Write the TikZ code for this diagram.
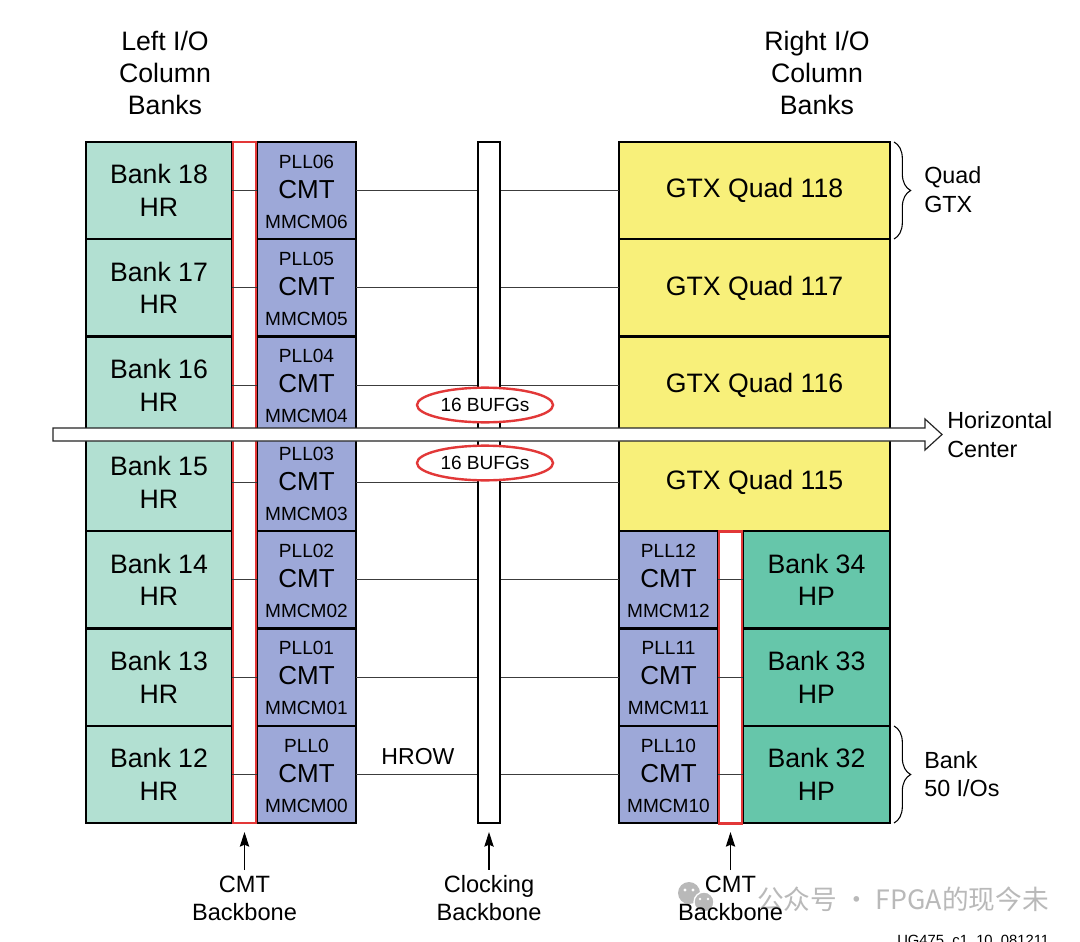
\documentclass[tikz,border=0pt]{standalone}
\usepackage{fontspec}
\setmainfont{Liberation Sans}
\newfontfamily\cjkfont{Noto Sans CJK SC}
\usetikzlibrary{decorations.pathreplacing,arrows.meta,shapes.geometric}
\definecolor{hrcol}{RGB}{178,224,210}
\definecolor{cmtcol}{RGB}{157,168,216}
\definecolor{gtxcol}{RGB}{248,240,122}
\definecolor{hpcol}{RGB}{102,198,170}
\definecolor{bbred}{RGB}{226,56,56}
\definecolor{linecol}{RGB}{60,60,60}
\definecolor{wmgray}{RGB}{185,185,185}
\begin{document}
\begin{tikzpicture}[x=0.75pt,y=-0.75pt,
  box/.style={draw=black,line width=1.7pt,inner sep=0pt,outer sep=0pt,minimum height=72.975pt},
  hrbank/.style={box,fill=hrcol,minimum width=109.5pt,align=center,font=\fontsize{20}{24.5}\selectfont},
  hpbank/.style={box,fill=hpcol,minimum width=110.25pt,align=center,font=\fontsize{20}{24.5}\selectfont},
  cmtbox/.style={box,fill=cmtcol,minimum width=74.25pt},
  gtxbox/.style={box,fill=gtxcol,minimum width=203.25pt,font=\fontsize{20}{24}\selectfont},
  smalltxt/.style={anchor=base,inner sep=0pt,font=\fontsize{14.3}{17}\selectfont},
  cmttxt/.style={anchor=base,inner sep=0pt,font=\fontsize{19.5}{23}\selectfont},
  redbb/.style={draw=bbred,line width=2.2pt,fill=white,inner sep=0pt,outer sep=0pt,minimum width=17.25pt},
  clockbb/.style={draw=black,line width=1.9pt,fill=white,inner sep=0pt,outer sep=0pt,minimum width=16.5pt,minimum height=510.75pt},
  hline/.style={draw=linecol,line width=0.75pt},
  bufg/.style={ellipse,draw=bbred,line width=1.8pt,fill=white,inner sep=0pt,minimum width=102pt,minimum height=26pt,font=\fontsize{14.3}{17}\selectfont},
  headtxt/.style={align=center,inner sep=0pt,font=\fontsize{20}{24}\selectfont},
  sidetxt/.style={align=left,inner sep=0pt,font=\fontsize{17.5}{21.5}\selectfont},
  bottxt/.style={align=center,inner sep=2pt,font=\fontsize{17.7}{21}\selectfont},
  uparrow/.style={draw=black,line width=0.8pt,-{Stealth[length=11pt,width=7pt,inset=1.5pt]},shorten >=6.75pt,shorten <=2pt},
  bracestyle/.style={draw=black,line width=0.8pt,decorate,decoration={brace,amplitude=12.5pt}}
]
\useasboundingbox[fill=white] (0,0) rectangle (1080,941);

% headers
\node[headtxt] (headL) at (165,72.5) {Left I/O\\Column\\Banks};
\node[headtxt] (headR) at (817,72.5) {Right I/O\\Column\\Banks};

% left column
\foreach \i/\b/\p/\m in {0/18/PLL06/MMCM06,1/17/PLL05/MMCM05,2/16/PLL04/MMCM04,3/15/PLL03/MMCM03,4/14/PLL02/MMCM02,5/13/PLL01/MMCM01,6/12/PLL0/MMCM00}{
  \pgfmathsetmacro\yc{190.65+97.3*\i}
  \node[hrbank] (bankL\i) at (159,\yc) {Bank \b\\HR};
  \node[cmtbox] (cmtL\i) at (306.5,\yc) {};
  \node[smalltxt] (pllL\i) at ([yshift=16.76pt]cmtL\i.center) {\p};
  \node[cmttxt] (cmtxL\i) at ([yshift=-5.74pt]cmtL\i.center) {CMT};
  \node[smalltxt] (mmL\i) at ([yshift=-28.2pt]cmtL\i.center) {\m};
}
\node[redbb,minimum height=510.75pt] (redL) at (244.5,482.5) {};

% right column
\foreach \i/\q in {0/118,1/117,2/116,3/115}{
  \pgfmathsetmacro\yc{190.65+97.3*\i}
  \node[gtxbox] (gtx\i) at (754.5,\yc) {GTX Quad \q};
}
\foreach \i/\n/\b in {4/12/34,5/11/33,6/10/32}{
  \pgfmathsetmacro\yc{190.65+97.3*\i}
  \node[cmtbox] (cmtR\i) at (668.5,\yc) {};
  \node[smalltxt] (pllR\i) at ([yshift=16.76pt]cmtR\i.center) {PLL\n};
  \node[cmttxt] (cmtxR\i) at ([yshift=-5.74pt]cmtR\i.center) {CMT};
  \node[smalltxt] (mmR\i) at ([yshift=-28.2pt]cmtR\i.center) {MMCM\n};
  \node[hpbank] (hp\i) at (816.5,\yc) {Bank \b\\HP};
}
\node[redbb,minimum height=218.9pt] (redR) at (730.5,677.1) {};

% HROW connectors
\foreach \i in {0,...,3} \draw[hline] (cmtL\i.east) -- (gtx\i.west);
\foreach \i in {4,5,6} \draw[hline] (cmtL\i.east) -- (cmtR\i.west);
\foreach \i in {0,...,6} \draw[hline] (bankL\i.east) -- (cmtL\i.west);
\foreach \i in {4,5,6} \draw[hline] (cmtR\i.east) -- (hp\i.west);

% clocking backbone
\node[clockbb] (clk) at (489,482.5) {};
\node[bufg] (bufgA) at (485,405) {16 BUFGs};
\node[bufg] (bufgB) at (485,463) {16 BUFGs};

% horizontal center arrow
\draw[line width=0.9pt,draw=black!85,fill=white] (53,428) -- (925,428) -- (925,419) -- (942,434.5) -- (925,450) -- (925,441) -- (53,441) -- cycle;
\node[sidetxt,anchor=west] (hcenter) at (947,434.5) {Horizontal\\Center};

% braces
\draw[bracestyle] (894,142) -- (894,239);
\node[sidetxt,anchor=west] (quadgtx) at (924,189.5) {Quad\\GTX};
\draw[bracestyle] (894,726) -- (894,823);
\node[sidetxt,anchor=west] (bankio) at (924,774) {Bank\\50 I/Os};

\node[font=\fontsize{17.3}{20}\selectfont,inner sep=0pt] (hrow) at (418,757) {HROW};

% watermark
\fill[wmgray] (689,893) circle[radius=11];
\fill[white] (685,890) circle[radius=1.6] (693,890) circle[radius=1.6];
\filldraw[fill=wmgray,draw=white,line width=1pt] (704,902) circle[radius=10];
\fill[white] (700,899) circle[radius=1.4] (708,899) circle[radius=1.4];
\node[anchor=west,inner sep=0pt,text=wmgray,font=\cjkfont\fontsize{20}{24}\selectfont] (wmtext) at (757,899) {公众号 · FPGA的现今未};

% bottom labels
\node[bottxt] (lblCL) at (244.5,898) {CMT\\Backbone};
\node[bottxt] (lblClk) at (489,898) {Clocking\\Backbone};
\node[bottxt] (lblCR) at (730.5,898) {CMT\\Backbone};
\draw[uparrow] (lblCL.north) -- (redL.south);
\draw[uparrow] (lblClk.north) -- (clk.south);
\draw[uparrow] (lblCR.north) -- (redR.south);

\node[anchor=base west,inner sep=0pt,font=\fontsize{11.1}{13}\selectfont] (ugid) at (897,945.6) {UG475\_c1\_10\_081211};
\end{tikzpicture}
\end{document}
